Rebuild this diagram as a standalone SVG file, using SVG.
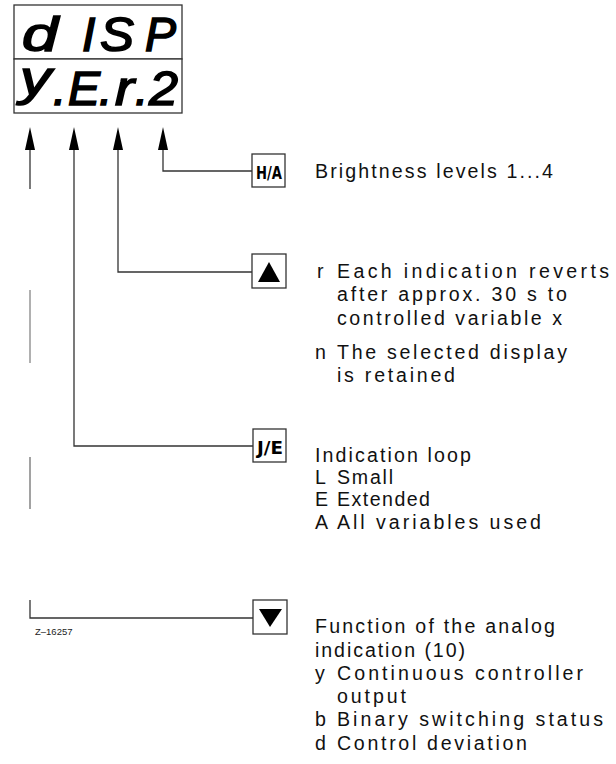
<svg xmlns="http://www.w3.org/2000/svg" width="616" height="764" viewBox="0 0 616 764">
<style>
.seg{font-family:"Liberation Sans",Arial,sans-serif;font-style:italic;font-size:48px;fill:#000;stroke:#000;stroke-width:1.6}
.box{fill:#fff;stroke:#333;stroke-width:1.3}
.key{font-family:"DejaVu Sans Condensed","Liberation Sans",sans-serif;font-weight:bold;font-size:18px;fill:#000}
.t{font-family:"Liberation Sans",Arial,sans-serif;font-size:19.6px;fill:#111}
.ln{fill:none;stroke:#333;stroke-width:1.3}
.ah{fill:#000}
.id{font-family:"Liberation Sans",Arial,sans-serif;font-size:9.5px;fill:#222}
</style>
<rect width="616" height="764" fill="#fff"/>
<g id="display">
  <rect class="box" x="14" y="5" width="168" height="54"/>
  <rect class="box" x="14" y="59" width="168" height="54"/>
  <text class="seg" x="22" y="51" textLength="36" lengthAdjust="spacingAndGlyphs">d</text>
  <text class="seg" x="82" y="51">I</text>
  <text class="seg" x="100" y="51" textLength="34" lengthAdjust="spacingAndGlyphs">S</text>
  <text class="seg" x="145" y="51" textLength="31" lengthAdjust="spacingAndGlyphs">P</text>
  <text class="seg" x="20" y="95" textLength="31" lengthAdjust="spacingAndGlyphs">y</text>
  <text class="seg" x="53" y="105">.</text>
  <text class="seg" x="68" y="105" textLength="32" lengthAdjust="spacingAndGlyphs">E</text>
  <text class="seg" x="99" y="105">.</text>
  <text class="seg" x="115" y="105" textLength="19" lengthAdjust="spacingAndGlyphs">r</text>
  <text class="seg" x="135" y="105">.</text>
  <text class="seg" x="149" y="105" textLength="29" lengthAdjust="spacingAndGlyphs">2</text>
</g>
<g id="connectors">
  <polygon class="ah" points="30,127 25,150 35,150"/>
  <polygon class="ah" points="74,127 69,150 79,150"/>
  <polygon class="ah" points="118,127 113,150 123,150"/>
  <polygon class="ah" points="163,127 158,150 168,150"/>
  <polyline class="ln" points="163,150 163,171 252,171"/>
  <polyline class="ln" points="118,150 118,272 252,272"/>
  <polyline class="ln" points="74,150 74,446 253,446"/>
  <line class="ln" x1="30" y1="150" x2="30" y2="189"/>
  <line class="ln" x1="30" y1="290" x2="30" y2="363" stroke-opacity="0.6"/>
  <line class="ln" x1="30" y1="457" x2="30" y2="509" stroke-opacity="0.7"/>
  <polyline class="ln" points="30,600 30,618 253,618"/>
</g>
<g id="key-ha">
  <rect class="box" x="252" y="154" width="33" height="33"/>
  <text class="key" x="256" y="179" textLength="26" lengthAdjust="spacingAndGlyphs">H/A</text>
</g>
<g id="key-up">
  <rect class="box" x="252" y="254" width="34" height="34"/>
  <polygon class="ah" points="269,262 258,282 280,282"/>
</g>
<g id="key-je">
  <rect class="box" x="253" y="429" width="33" height="33"/>
  <text class="key" x="257" y="454" textLength="26" lengthAdjust="spacingAndGlyphs">J/E</text>
</g>
<g id="key-down">
  <rect class="box" x="253" y="600" width="34" height="34"/>
  <polygon class="ah" points="259,609 282,609 270,627"/>
</g>
<g id="texts">
  <text class="t" x="315" y="178" textLength="238">Brightness levels 1...4</text>
  <text class="t" x="317" y="278">r</text>
  <text class="t" x="337" y="278" textLength="272">Each indication reverts</text>
  <text class="t" x="337" y="301" textLength="230">after approx. 30 s to</text>
  <text class="t" x="337" y="325" textLength="225">controlled variable x</text>
  <text class="t" x="315" y="359">n</text>
  <text class="t" x="337" y="359" textLength="230">The selected display</text>
  <text class="t" x="337" y="382" textLength="118">is retained</text>
  <text class="t" x="315" y="462" textLength="156">Indication loop</text>
  <text class="t" x="315" y="484">L</text>
  <text class="t" x="337" y="484" textLength="56">Small</text>
  <text class="t" x="315" y="506">E</text>
  <text class="t" x="337" y="506" textLength="93">Extended</text>
  <text class="t" x="315" y="529">A</text>
  <text class="t" x="337" y="529" textLength="204">All variables used</text>
  <text class="t" x="315" y="633" textLength="240">Function of the analog</text>
  <text class="t" x="315" y="657" textLength="150">indication (10)</text>
  <text class="t" x="315" y="680">y</text>
  <text class="t" x="337" y="680" textLength="246">Continuous controller</text>
  <text class="t" x="337" y="703" textLength="69">output</text>
  <text class="t" x="315" y="726">b</text>
  <text class="t" x="337" y="726" textLength="266">Binary switching status</text>
  <text class="t" x="315" y="750">d</text>
  <text class="t" x="337" y="750" textLength="190">Control deviation</text>
  <text class="id" x="35" y="635">Z–16257</text>
</g>
</svg>
